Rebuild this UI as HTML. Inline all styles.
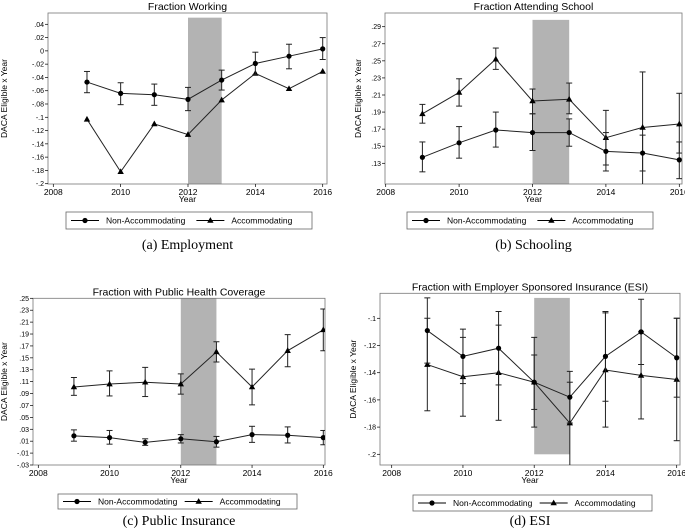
<!DOCTYPE html>
<html><head><meta charset="utf-8">
<style>
body{margin:0;background:#fff;width:685px;height:529px;overflow:hidden}
svg{display:block;font-family:"Liberation Sans",sans-serif}
.cap{font-family:"Liberation Serif",serif;font-size:14px}
</style></head><body>
<svg id="fig" width="685" height="529"></svg>
<script>
const years=[2009,2010,2011,2012,2013,2014,2015,2016];
// Panel A: Employment
const nonA=[-0.047,-0.064,-0.066,-0.073,-0.044,-0.019,-0.008,0.003];
const nonLoA=[-0.063,-0.081,-0.082,-0.090,-0.059,-0.036,-0.027,-0.013];
const nonHiA=[-0.031,-0.048,-0.050,-0.055,-0.029,-0.002,0.010,0.020];
const accA=[-0.103,-0.182,-0.110,-0.126,-0.074,-0.034,-0.057,-0.031];
const ticksA=[0.04,0.02,0,-0.02,-0.04,-0.06,-0.08,-0.1,-0.12,-0.14,-0.16,-0.18,-0.2];
const tickLabA=[".04",".02","0","-.02","-.04","-.06","-.08","-.1","-.12","-.14","-.16","-.18","-.2"];
// Panel B: Schooling
const nonB=[0.137,0.154,0.169,0.166,0.166,0.144,0.142,0.134];
const nonLoB=[0.120,0.136,0.149,0.145,0.150,0.121,0.100,0.112];
const nonHiB=[0.155,0.173,0.190,0.188,0.182,0.166,0.163,0.155];
const accB=[0.188,0.213,0.252,0.203,0.205,0.160,0.172,0.176];
const accLoB=[0.177,0.197,0.240,0.188,0.188,0.128,0.121,0.142];
const accHiB=[0.199,0.229,0.265,0.217,0.224,0.192,0.237,0.212];
const ticksB=[0.29,0.27,0.25,0.23,0.21,0.19,0.17,0.15,0.13];
const tickLabB=[".29",".27",".25",".23",".21",".19",".17",".15",".13"];
// Panel C: Public insurance
const nonC=[0.019,0.016,0.008,0.014,0.009,0.021,0.020,0.016];
const nonLoC=[0.010,0.005,0.003,0.007,0.000,0.008,0.007,0.004];
const nonHiC=[0.029,0.028,0.014,0.021,0.018,0.035,0.034,0.028];
const accC=[0.101,0.106,0.109,0.106,0.160,0.101,0.162,0.197];
const accLoC=[0.087,0.086,0.085,0.089,0.143,0.071,0.135,0.162];
const accHiC=[0.117,0.128,0.134,0.123,0.177,0.131,0.189,0.232];
const ticksC=[0.25,0.23,0.21,0.19,0.17,0.15,0.13,0.11,0.09,0.07,0.05,0.03,0.01,-0.01,-0.03];
const tickLabC=[".25",".23",".21",".19",".17",".15",".13",".11",".09",".07",".05",".03",".01","-.01","-.03"];
// Panel D: ESI
const nonD=[-0.109,-0.128,-0.122,-0.147,-0.158,-0.128,-0.110,-0.129];
const nonLoD=[-0.133,-0.148,-0.149,-0.180,-0.177,-0.161,-0.134,-0.158];
const nonHiD=[-0.085,-0.108,-0.095,-0.114,-0.139,-0.095,-0.086,-0.100];
const accD=[-0.134,-0.143,-0.140,-0.147,-0.177,-0.138,-0.142,-0.145];
const accLoD=[-0.168,-0.172,-0.175,-0.167,-0.215,-0.180,-0.174,-0.190];
const accHiD=[-0.100,-0.114,-0.105,-0.127,-0.147,-0.096,-0.110,-0.100];
const ticksD=[-0.1,-0.12,-0.14,-0.16,-0.18,-0.2];
const tickLabD=["-.1","-.12","-.14","-.16","-.18","-.2"];
const xTicks=[2008,2010,2012,2014,2016];

const panels=[
 {id:"a",title:"Fraction Working",caption:"(a) Employment",L:48,R:327,T:13,B:184,x0:53.3,x1:322.7,yv0:0.04,yp0:24.3,yv1:-0.2,yp1:183.7,shadeTop:0.05,shadeBot:null,
  non:nonA,nonLo:nonLoA,nonHi:nonHiA,acc:accA,accLo:null,accHi:null,ticks:ticksA,labs:tickLabA,leg:[66,212,312,229],capY:249},
 {id:"b",title:"Fraction Attending School",caption:"(b) Schooling",L:385,R:682,T:13,B:184,x0:385.7,x1:679.3,yv0:0.29,yp0:26.7,yv1:0.13,yp1:163.3,shadeTop:0.298,shadeBot:null,
  non:nonB,nonLo:nonLoB,nonHi:nonHiB,acc:accB,accLo:accLoB,accHi:accHiB,ticks:ticksB,labs:tickLabB,leg:[407,212,653,229],capY:249},
 {id:"c",title:"Fraction with Public Health Coverage",caption:"(c) Public Insurance",L:33,R:325,T:298.3,B:465,x0:38.3,x1:323.3,yv0:0.25,yp0:298.3,yv1:-0.03,yp1:465,shadeTop:0.25,shadeBot:null,
  non:nonC,nonLo:nonLoC,nonHi:nonHiC,acc:accC,accLo:accLoC,accHi:accHiC,ticks:ticksC,labs:tickLabC,leg:[58,494,297,509],capY:525},
 {id:"d",title:"Fraction with Employer Sponsored Insurance (ESI)",caption:"(d) ESI",L:380,R:680,T:293.3,B:465,x0:391.7,x1:676.7,yv0:-0.1,yp0:318.3,yv1:-0.2,yp1:454.3,shadeTop:-0.085,shadeBot:-0.2,
  non:nonD,nonLo:nonLoD,nonHi:nonHiD,acc:accD,accLo:accLoD,accHi:accHiD,ticks:ticksD,labs:tickLabD,leg:[413,495,652,511],capY:525}
];
const NS="http://www.w3.org/2000/svg";
const svg=document.getElementById("fig");
function mk(tag,attrs,parent){const e=document.createElementNS(NS,tag);for(const k in attrs)e.setAttribute(k,attrs[k]);(parent||svg).appendChild(e);return e;}
function circ(g,x,y){return mk("circle",{cx:x,cy:y,r:2.6,fill:"#000"},g);}
function tri(g,x,y){return mk("polygon",{points:`${x},${y-3.4} ${x-3.2},${y+2.3} ${x+3.2},${y+2.3}`,fill:"#000"},g);}

panels.forEach(p=>{
  const X=v=>p.x0+(v-2008)*(p.x1-p.x0)/8;
  const Y=v=>p.yp0+(v-p.yv0)*(p.yp1-p.yp0)/(p.yv1-p.yv0);
  const g=mk("g",{});
  
  
  const t=mk("text",{x:(p.L+p.R)/2,y:p.T-3,"text-anchor":"middle","font-size":"10.5"},g);t.textContent=p.title;
  
  
  const cp=mk("clipPath",{id:"clip"+p.id},g);mk("rect",{x:p.L,y:p.T,width:p.R-p.L,height:p.B-p.T},cp);
  const sb=p.shadeBot===null?p.B:Y(p.shadeBot);
  const sh=mk("rect",{x:X(2012),y:Y(p.shadeTop),width:X(2013)-X(2012),height:sb-Y(p.shadeTop),fill:"#b3b3b3"},g);
  
  
  const fr=mk("rect",{x:p.L,y:p.T,width:p.R-p.L,height:p.B-p.T,fill:"none",stroke:"#777","stroke-width":0.8},g);
  
  
  const ya=mk("g",{},g);
  
  
  p.ticks.forEach((v,i)=>{mk("line",{x1:p.L-3,x2:p.L,y1:Y(v),y2:Y(v),stroke:"#000","stroke-width":0.7},ya);
    const tl=mk("text",{x:p.L-4,y:Y(v)+2.5,"text-anchor":"end","font-size":"7"},ya);tl.textContent=p.labs[i];});
  const yt=mk("text",{x:0,y:0,"text-anchor":"middle","font-size":"8.5",transform:`translate(${p.id==="a"||p.id==="c"?7:p.L-24},${(p.T+p.B)/2}) rotate(-90)`},g);
  yt.textContent="DACA Eligible x Year";
  
  
  const xa=mk("g",{},g);
  
  
  xTicks.forEach(v=>{mk("line",{x1:X(v),x2:X(v),y1:p.B,y2:p.B+3,stroke:"#000","stroke-width":0.7},xa);
    const tl=mk("text",{x:X(v),y:p.B+11,"text-anchor":"middle","font-size":"8.5"},xa);tl.textContent=v;});
  const xt=mk("text",{x:(p.L+p.R)/2,y:p.B+18,"text-anchor":"middle","font-size":"8.5"},g);xt.textContent="Year";
  
  
  const sg=mk("g",{"clip-path":`url(#clip${p.id})`},g);
  function series(vals,lo,hi,marker,name){
    const s=mk("g",{},sg);
    
    
    if(lo){years.forEach((yr,i)=>{const x=X(yr);
      mk("line",{x1:x,x2:x,y1:Y(lo[i]),y2:Y(hi[i]),stroke:"#222","stroke-width":1},s);
      [lo[i],hi[i]].forEach(v=>mk("line",{x1:x-3,x2:x+3,y1:Y(v),y2:Y(v),stroke:"#222","stroke-width":1},s));});}
    mk("polyline",{points:years.map((yr,i)=>X(yr)+","+Y(vals[i])).join(" "),fill:"none",stroke:"#222","stroke-width":1},s);
    years.forEach((yr,i)=>marker(s,X(yr),Y(vals[i])));
  }
  series(p.acc,p.accLo,p.accHi,tri,"accommodating-series");
  series(p.non,p.nonLo,p.nonHi,circ,"non-accommodating-series");
  const [lx1,ly1,lx2,ly2]=p.leg;const lg=mk("g",{},g);
  
  
  mk("rect",{x:lx1,y:ly1,width:lx2-lx1,height:ly2-ly1,fill:"#fff",stroke:"#666","stroke-width":0.8},lg);
  const cy=(ly1+ly2)/2,w=lx2-lx1;
  mk("line",{x1:lx1+5,x2:lx1+33,y1:cy,y2:cy,stroke:"#000","stroke-width":1},lg);circ(lg,lx1+19,cy);
  let te=mk("text",{x:lx1+40,y:cy+3,"font-size":"8.5"},lg);te.textContent="Non-Accommodating";
  mk("line",{x1:lx1+w*0.53,x2:lx1+w*0.53+28,y1:cy,y2:cy,stroke:"#000","stroke-width":1},lg);tri(lg,lx1+w*0.53+14,cy);
  te=mk("text",{x:lx1+w*0.53+35,y:cy+3,"font-size":"8.5"},lg);te.textContent="Accommodating";
  const c=mk("text",{x:(p.L+p.R)/2,y:p.capY,"text-anchor":"middle",class:"cap"},g);c.textContent=p.caption;
  
  
});
</script>
</body></html>
